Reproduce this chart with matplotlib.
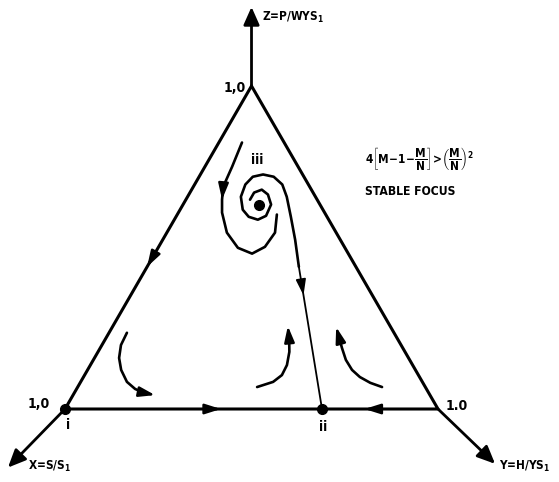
import numpy as np
import matplotlib
matplotlib.use("Agg")
import matplotlib.pyplot as plt
from matplotlib.patches import FancyArrowPatch

plt.rcParams["font.family"] = ["DejaVu Sans"]
plt.rcParams["font.weight"] = "bold"
plt.rcParams["font.stretch"] = "condensed"
plt.rcParams["mathtext.fontset"] = "custom"
plt.rcParams["mathtext.rm"] = "DejaVu Sans:weight=bold:stretch=condensed"
plt.rcParams["mathtext.it"] = "DejaVu Sans:weight=bold:stretch=condensed"
plt.rcParams["mathtext.bf"] = "DejaVu Sans:weight=bold:stretch=condensed"

# Phase-plane trajectories in ternary fractions: (Y share, Z share); X = 1 - Y - Z
outer_spiral_y = [0.062, 0.073, 0.080, 0.097, 0.117, 0.161, 0.214, 0.261, 0.285, 0.290, 0.267]
outer_spiral_z = [0.825, 0.750, 0.688, 0.648, 0.608, 0.546, 0.499, 0.481, 0.502, 0.546, 0.602]

inner_spiral_y = [0.172, 0.172, 0.188, 0.212, 0.236, 0.240, 0.224, 0.195, 0.168, 0.143,
                  0.136, 0.144, 0.168, 0.200, 0.235, 0.266, 0.308, 0.355, 0.407, 0.689]
inner_spiral_z = [0.648, 0.670, 0.679, 0.664, 0.633, 0.598, 0.586, 0.595, 0.617, 0.657,
                  0.695, 0.719, 0.726, 0.719, 0.695, 0.657, 0.595, 0.524, 0.440, 0.000]

left_flow_y = [0.048, 0.051, 0.066, 0.090, 0.124, 0.157, 0.187, 0.220]
left_flow_z = [0.236, 0.198, 0.158, 0.121, 0.084, 0.062, 0.050, 0.043]

mid_flow_y = [0.481, 0.516, 0.529, 0.527, 0.513, 0.494, 0.469]
mid_flow_z = [0.068, 0.084, 0.105, 0.136, 0.177, 0.214, 0.257]

right_flow_y = [0.816, 0.778, 0.741, 0.709, 0.677, 0.648, 0.623, 0.600]
right_flow_z = [0.068, 0.081, 0.099, 0.121, 0.152, 0.189, 0.223, 0.254]

# Equilibria
eq_labels = ["i", "ii", "iii"]
eq_y = [0.0, 0.689, 0.204]
eq_z = [0.0, 0.0, 0.633]

condition = r"$4\left[M\!-\!1\!-\!\dfrac{M}{N}\right]\!>\!\left(\dfrac{M}{N}\right)^{2}$"
stability = "STABLE FOCUS"

S3 = np.sqrt(3) / 2


def to_xy(y, z):
    y = np.asarray(y, float)
    z = np.asarray(z, float)
    return y + z / 2, z * S3


fig = plt.figure(figsize=(5.59, 4.82), dpi=100)
ax = fig.add_axes([0, 0, 1, 1])
ax.set_xlim(-0.1743, 1.3244)
ax.set_ylim(-0.1957, 1.0965)
ax.axis("off")

K = "black"


def arrow(p0, p1, scale=10, lw=1.8, hl=0.95, hw=0.3):
    ax.add_patch(FancyArrowPatch(p0, p1, arrowstyle=f"-|>,head_length={hl},head_width={hw}",
                                 mutation_scale=scale, color=K, lw=lw,
                                 shrinkA=0, shrinkB=0, zorder=4))


# Triangle
vx, vy = to_xy([0, 1, 0, 0], [0, 0, 1, 0])
ax.plot(vx, vy, color=K, lw=2.2, solid_joinstyle="miter", zorder=3)

# Axis arrows leaving each vertex
arrow((0.5, S3), (0.5, 1.078), scale=12, lw=2.0, hl=0.9, hw=0.4)
arrow((0.0, 0.0), (-0.153, -0.157), scale=12, lw=2.0, hl=0.9, hw=0.4)
arrow((1.0, 0.0), (1.153, -0.147), scale=12, lw=2.0, hl=0.9, hw=0.4)

# Flow direction markers on the edges
arrow((0.38, 0.0), (0.418, 0.0))
arrow((0.84, 0.0), (0.803, 0.0))
ex, ey = to_xy([0, 0], [0.48, 0.44])
arrow((ex[0], ey[0]), (ex[1], ey[1]))

# Trajectories
ox, oy = to_xy(outer_spiral_y, outer_spiral_z)
ax.plot(ox, oy, color=K, lw=1.9, solid_capstyle="round", solid_joinstyle="round", zorder=3)
arrow((ox[2], oy[2]), (ox[3], oy[3]))

ix, iy = to_xy(inner_spiral_y, inner_spiral_z)
ax.plot(ix[:-1], iy[:-1], color=K, lw=1.9, solid_capstyle="round", solid_joinstyle="round", zorder=3)
ax.plot(ix[-2:], iy[-2:], color=K, lw=1.3, zorder=3)
t0, t1 = 0.20, 0.13
ax_ = ix[-1] + (ix[-2] - ix[-1]) * (1 - t0)
ay_ = iy[-1] + (iy[-2] - iy[-1]) * (1 - t0)
bx_ = ix[-1] + (ix[-2] - ix[-1]) * (1 - t1)
by_ = iy[-1] + (iy[-2] - iy[-1]) * (1 - t1)
arrow((bx_, by_), (ax_, ay_), lw=1.3)

for ys, zs in [(left_flow_y, left_flow_z), (mid_flow_y, mid_flow_z), (right_flow_y, right_flow_z)]:
    cx, cy = to_xy(ys, zs)
    ax.plot(cx[:-1], cy[:-1], color=K, lw=1.9, solid_capstyle="round",
            solid_joinstyle="round", zorder=3)
    arrow((cx[-2], cy[-2]), (cx[-1], cy[-1]))

# Equilibrium points
px, py = to_xy(eq_y, eq_z)
ax.plot(px, py, "o", color=K, ms=7, zorder=5)
offsets = [(3, -16), (1, -18), (-2, 45)]
for lab, x, y, off in zip(eq_labels, px, py, offsets):
    ax.annotate(lab, (x, y), xytext=off, textcoords="offset pixels",
                ha="center", va="center", fontsize=10, fontweight="bold")

# Axis titles and vertex values
ax.text(0.528, 1.051, r"Z=P/WYS$_1$", fontsize=8.5, ha="left", va="center")
ax.text(-0.099, -0.153, r"X=S/S$_1$", fontsize=8.5, ha="left", va="center")
ax.text(1.164, -0.155, r"Y=H/YS$_1$", fontsize=8.5, ha="left", va="center")
ax.text(0.485, 0.861, "1,0", fontsize=10, ha="right", va="center")
ax.text(-0.040, 0.013, "1,0", fontsize=10, ha="right", va="center")
ax.text(1.021, 0.008, "1.0", fontsize=10, ha="left", va="center")

ax.text(0.804, 0.668, condition, fontsize=8.5, ha="left", va="center")
ax.text(0.804, 0.582, stability, fontsize=8.7, ha="left", va="center")

fig.savefig("out.png", dpi=100)
